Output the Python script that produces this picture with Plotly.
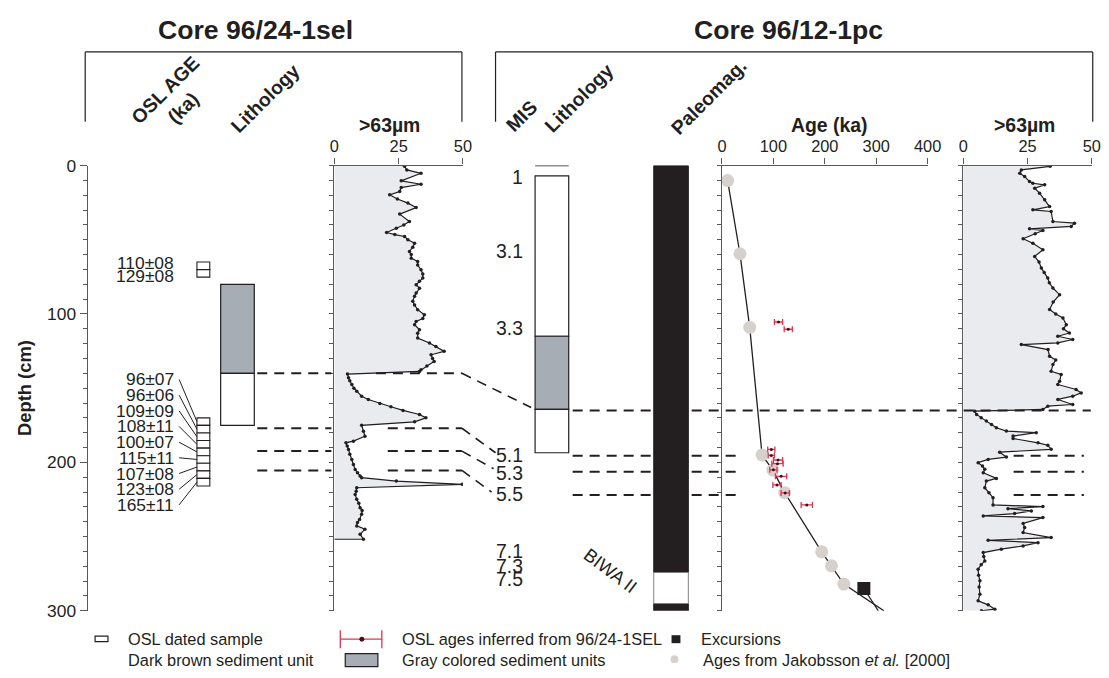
import plotly.graph_objects as go

# Figure frame; positions below are given in the reference picture's pixels and mapped to the figure.
FW, FH = 1101, 670
INK = '#231f20'
AX = '#58595b'
GRAY_UNIT = '#a7adb4'
FILL = '#e9ebef'
RED = '#e2334f'
JAK = '#d7d1ce'
FONT = 'Arial, Liberation Sans, Helvetica, sans-serif'

# ---------------- data ----------------
# Core 96/24-1sel  >63 um (%)
grain24_depth = [0.5, 2.9, 5.2, 10.3, 12.6, 14.8, 17.5, 19.7, 22.5, 25.3, 28.3, 32.7, 37.7, 40, 42.2, 45.1,
                 46.5, 47.8, 50, 52.3, 55, 57.9, 60, 62.4, 64.6, 67, 70.2, 73, 75.8, 78, 80.3, 82.6, 85.9,
                 88, 91.5, 94, 97.1, 100.5, 103, 105, 107.2, 110.6, 113, 116.2, 119.6, 122, 125.2, 127.5,
                 130, 132, 135, 137.6, 138.7, 140.5, 143, 145, 147.5, 150, 152, 155.4, 157.6, 160.3, 162.5,
                 165, 167.7, 170, 172.7, 175, 179, 182.4, 185.7, 186.8, 189, 191.3, 194.5, 198, 201.4,
                 204.8, 207, 209.2, 210.3, 212.6, 214.8, 217.1, 219.5, 221.6, 224.9, 227.5, 230.5, 232.5,
                 235, 238.5, 240.5, 242.8, 245.1, 248.4, 251.8]
grain24_val = [27.3, 28.2, 33.7, 26.0, 33.7, 26.0, 25.4, 21.5, 24.5, 28.6, 31.8, 25.4, 29.2, 27.0, 24.1, 20.3,
               23.5, 27.3, 28.6, 31.2, 30.5, 29.2, 29.9, 29.9, 32.4, 32.4, 33.7, 34.4, 34.4, 33.1, 31.8, 33.1,
               31.8, 31.2, 30.5, 31.2, 32.4, 35.0, 34.4, 31.8, 31.2, 33.1, 32.4, 32.4, 37.0, 39.5, 42.7,
               37.6, 38.2, 38.8, 36.0, 33.7, 33.1, 5.1, 5.5, 6.0, 6.8, 7.6, 8.7, 10.6, 13.2, 17.7, 22.0,
               26.7, 33.1, 35.6, 31.2, 10.6, 11.3, 11.9, 7.4, 4.5, 5.0, 5.5, 6.0, 6.8, 7.4,
               8.1, 9.0, 10.0, 10.6, 24.1, 49.7, 8.7, 8.5, 8.1, 8.7, 9.5, 10.0, 10.8,
               10.6, 9.8, 9.0, 8.7, 11.9, 10.0, 11.3]

# Core 96/12-1pc  >63 um (%)
grain12_depth = [0.5, 2.9, 5.2, 7.4, 10.8, 11.9, 13.0, 15.3, 18.6, 23.1, 27.6, 29.8, 30.9, 37.7, 38.8, 41.0,
                 42.6, 43.7, 46, 49.3, 52.3, 56.7, 61.2, 65, 69.1, 72, 75.8, 79, 82.5, 87.0, 92, 97.0, 100,
                 102.7, 107.2, 110, 112.8, 115.0, 117.2, 119.5, 120.6, 124, 128.5, 131, 134.0, 138.6, 140.8,
                 145.3, 147.5, 150.9, 153.2, 155.4, 157.6, 161.0, 162.1, 164.3, 165.5, 167.7, 170, 172.2,
                 174.5, 176.7, 178.9, 180.0, 182.3, 183.9, 186.8, 188.4, 191.2, 193.1, 196.4, 198.0, 200.2,
                 202.5, 204.7, 207.0, 210.8, 212.6, 217.1, 220.5, 223.8, 228.7, 229.8, 231.2, 232.7, 234.5,
                 236.1, 237.2, 241.2, 243.9, 247.3, 250.7, 252.5, 254.1, 256.3, 258.5, 260.8, 263.5, 266.4,
                 269, 272.0, 276, 279.8, 284, 288.8, 293.3, 296.0, 298.9, 300.0]
grain12_val = [33.8, 22.6, 22.0, 23.9, 25.8, 27.1, 31.7, 27.8, 29.7, 31.7, 33.6, 27.1, 34.2, 34.9, 43.3, 42.0,
               25.8, 31.0, 28.0, 23.3, 27.1, 31.0, 27.8, 29.5, 30.4, 31.5, 32.9, 33.5, 34.9, 37.5, 35.0, 33.6, 36.0,
               38.8, 40.1, 39.0, 41.3, 36.8, 42.6, 36.8, 22.6, 33.0, 33.6, 36.0, 34.9, 34.2, 38.1,
               37.5, 36.8, 43.9, 45.9, 42.6, 36.8, 42.6, 32.9, 31.0, 4.5, 5.2, 7.0, 9.0,
               11.0, 12.9, 16.8, 28.4, 19.4, 19.4, 29.1, 32.9, 34.2, 14.2, 16.8, 9.7, 5.8,
               7.5, 8.4, 7.8, 12.9, 9.0, 8.4, 10.0, 11.6, 11.6, 31.0, 17.4, 26.5, 20.0,
               7.8, 31.0, 23.3, 23.9, 23.3, 34.2, 9.7, 29.1, 23.3, 14.8, 7.8, 8.0, 8.4,
               7.0, 5.8, 6.0, 6.5, 6.2, 6.5, 5.8, 9.7, 12.3, 7.1]

# Ages from Jakobsson et al. [2000] (core 96/12-1pc)
jak_age = [11, 35, 54, 78, 99, 122, 194, 213, 237]
jak_depth = [10.1, 59.4, 109, 195, 205.2, 220.4, 260.3, 269.7, 282]
model_end_age, model_end_depth = 315, 300

# Excursion
exc_age, exc_depth = 276, 285
exc_end_age, exc_end_depth = 304, 300

# OSL ages (ka) and errors, dated in 96/24-1sel and inferred in 96/12-1pc
osl_age = [110, 129, 96, 96, 109, 108, 100, 115, 107, 123, 165]
osl_err = [8, 8, 7, 6, 9, 11, 7, 11, 8, 8, 11]
osl_depth12 = [105.4, 110.3, 191.3, 195.3, 198.4, 200.9, 205, 209.4, 215.2, 220.6, 228.7]
osl_top24 = [65, 70.1, 170, 175.1, 180.2, 185.3, 190.4, 195.5, 200.6, 205.7, 210.8]
osl_thick24 = 5.1
osl_label_depth = [65.7, 74.7, 144.1, 154.7, 165.3, 175.8, 186.4, 196.9, 207.5, 218.1, 228.6]

# Lithology
lith24_top = [80, 140]
lith24_bot = [140, 175]
lith24_kind = ['gray', 'white']
lith12_top = [7, 115, 164.3]
lith12_bot = [115, 164.3, 193.5]
lith12_kind = ['white', 'gray', 'white']
pmag_top = [0, 274.2, 295.5]
pmag_bot = [274.2, 295.5, 300.5]
pmag_kind = ['black', 'white', 'black']

# MIS labels
mis_label = ['1', '3.1', '3.3', '5.1', '5.3', '5.5', '7.1', '7.3', '7.5']
mis_depth = [7.4, 57.8, 109.4, 195, 207, 221.5, 259.6, 269.7, 278.7]

# Correlation lines
corr24 = [140, 177, 192.4, 205.4]
corr12 = [165, 195.5, 206.3, 222]

# ---------------- coordinate helpers ----------------
SX, SY = 0.984, 0.973      # screenshot scale
OXF, OYF = 4.0, 8.2        # screenshot offset
MARG = 8                   # page margin


def figx(r):
    return (3 + 0.99 * r - OXF) / SX - MARG


def figy(r):
    return (r - OYF) / SY - MARG


def inv_figx(f):
    return (((f + MARG) * SX + OXF) - 3) / 0.99


def fx(r):
    return figx(r) / FW


def fy(r):
    return 1 - figy(r) / FH


def fs(s):
    return s / 0.978


ydom = [fy(610.5), fy(164)]
fig = go.Figure()

fig.add_trace(go.Scatter(x=[inv_figx(0)], y=[0], xaxis='x4', yaxis='y', mode='markers',
                         marker=dict(opacity=0), hoverinfo='skip', showlegend=False))

# left grain size
fig.add_trace(go.Scatter(x=grain24_val, y=grain24_depth, xaxis='x', yaxis='y2', mode='lines+markers',
                         fill='tozerox', fillcolor=FILL, line=dict(color=INK, width=1.2),
                         marker=dict(size=3.5, color=INK), showlegend=False, hoverinfo='skip'))
fig.add_trace(go.Scatter(x=[0, grain24_val[-1]], y=[grain24_depth[-1]] * 2, xaxis='x', yaxis='y2',
                         mode='lines', line=dict(color=INK, width=1.2), showlegend=False, hoverinfo='skip'))

# age model
fig.add_trace(go.Scatter(x=jak_age + [model_end_age], y=jak_depth + [model_end_depth], xaxis='x2', yaxis='y3',
                         mode='lines', line=dict(color=INK, width=1.3), showlegend=False, hoverinfo='skip'))
fig.add_trace(go.Scatter(x=[exc_age, exc_end_age], y=[exc_depth, exc_end_depth], xaxis='x2', yaxis='y3',
                         mode='lines', line=dict(color=INK, width=1.3), showlegend=False, hoverinfo='skip'))
fig.add_trace(go.Scatter(x=jak_age, y=jak_depth, xaxis='x2', yaxis='y3', mode='markers',
                         marker=dict(size=13, color=JAK), showlegend=False, hoverinfo='skip'))
fig.add_trace(go.Scatter(x=[exc_age], y=[exc_depth], xaxis='x2', yaxis='y3', mode='markers',
                         marker=dict(size=13, color=INK, symbol='square'), showlegend=False, hoverinfo='skip'))
fig.add_trace(go.Scatter(x=osl_age, y=osl_depth12, xaxis='x2', yaxis='y3', mode='markers',
                         marker=dict(size=3, color='#4a0d16'),
                         error_x=dict(type='data', array=osl_err, color=RED, thickness=1.3, width=3),
                         showlegend=False, hoverinfo='skip'))

# right grain size
fig.add_trace(go.Scatter(x=grain12_val, y=grain12_depth, xaxis='x3', yaxis='y4', mode='lines+markers',
                         fill='tozerox', fillcolor=FILL, line=dict(color=INK, width=1.2),
                         marker=dict(size=3.5, color=INK), showlegend=False, hoverinfo='skip'))

shapes = []
annotations = []


def line_px(x0, d0, x1, d1, width=1.2, color=INK, dash=None):
    ln = dict(color=color, width=width)
    if dash:
        ln['dash'] = dash
    shapes.append(dict(type='line', xref='x4', yref='y', x0=x0, x1=x1, y0=d0, y1=d1, line=ln, layer='above'))


def rect_px(x0, x1, d0, d1, fill, lc=INK, lw=1.2):
    shapes.append(dict(type='rect', xref='x4', yref='y', x0=x0, x1=x1, y0=d0, y1=d1,
                       fillcolor=fill, line=dict(color=lc, width=lw), layer='above'))


DASH = '10px,7px'
slant_x = [533, 497, 495, 493]
for i, d24 in enumerate(corr24):
    line_px(256, d24, 331, d24, width=2, dash=DASH)
    x_start = 376 if i == 0 else 388
    line_px(x_start, d24, 463, d24, width=2, dash=DASH)
    line_px(463, d24, slant_x[i], corr12[i] - 2, width=1.6, dash=DASH)
for i, d12 in enumerate(corr12):
    if i == 0:
        line_px(575, d12, 1099, d12, width=2, dash=DASH)
    else:
        line_px(575, d12, 741, d12, width=2, dash=DASH)
        line_px(1021, d12, 1092, d12, width=2, dash=DASH)

colmap = {'gray': GRAY_UNIT, 'white': 'white', 'black': INK}
for t, b, k in zip(lith24_top, lith24_bot, lith24_kind):
    rect_px(219, 253, t, b, colmap[k])
for t in osl_top24:
    rect_px(195, 208, t, t + osl_thick24, 'white', lw=1.1)
for i, (a, e, ld) in enumerate(zip(osl_age, osl_err, osl_label_depth)):
    annotations.append(dict(xref='x4', yref='y', x=174, y=ld, text=f'{a}±{e:02d}', showarrow=False,
                            xanchor='right', yanchor='middle', font=dict(size=fs(17), color=INK, family=FONT)))
    if i >= 2:
        line_px(177, ld, 195, osl_top24[i] + osl_thick24 / 2, width=1.0)

line_px(537, 0, 571, 0, width=1.2)
for t, b, k in zip(lith12_top, lith12_bot, lith12_kind):
    rect_px(537, 571, t, b, colmap[k])
for t, b, k in zip(pmag_top, pmag_bot, pmag_kind):
    rect_px(657, 692, t, b, colmap[k], lc=INK if k == 'black' else '#808285', lw=1.0)

for lab, d in zip(mis_label, mis_depth):
    annotations.append(dict(xref='x4', yref='y', x=527, y=d, text=lab, showarrow=False, xanchor='right',
                            yanchor='middle', font=dict(size=fs(19), color=INK, family=FONT)))
annotations.append(dict(xref='x4', yref='y', x=613, y=273, text='BIWA II', showarrow=False, textangle=37,
                        xanchor='center', yanchor='middle', font=dict(size=fs(18), color=INK, family=FONT)))

annotations.append(dict(xref='paper', yref='y', x=fx(20), y=150, text='<b>Depth (cm)</b>', showarrow=False,
                        textangle=-90, xanchor='center', yanchor='middle',
                        font=dict(size=fs(18), color=INK, family=FONT)))


def ptext(x, y, text, size, angle=0, xa='center', ya='middle'):
    annotations.append(dict(xref='paper', yref='paper', x=fx(x), y=fy(y), text=text, showarrow=False,
                            textangle=angle, xanchor=xa, yanchor=ya,
                            font=dict(size=fs(size), color=INK, family=FONT)))


ptext(254, 28, '<b>Core 96/24-1sel</b>', 26)
ptext(793, 28, '<b>Core 96/12-1pc</b>', 26)
ptext(172, 97, '<b>OSL AGE</b><br><b>(ka)</b>', 19, angle=-45)
ptext(264, 96, '<b>Lithology</b>', 19, angle=-45)
ptext(390, 123, '<b>>63µm</b>', 19)
ptext(523, 114, '<b>MIS</b>', 19, angle=-45)
ptext(581, 96, '<b>Lithology</b>', 19, angle=-45)
ptext(712, 95, '<b>Paleomag.</b>', 19, angle=-45)
ptext(835, 123, '<b>Age (ka)</b>', 19)
ptext(1032, 123, '<b>>63µm</b>', 19)


def pline(x0, y0, x1, y1, color=INK, width=1.2):
    shapes.append(dict(type='line', xref='paper', yref='paper', x0=fx(x0), x1=fx(x1), y0=fy(y0), y1=fy(y1),
                       line=dict(color=color, width=width)))


for (xa, xb) in [(82, 463), (497, 1101)]:
    pline(xa, 50, xb, 50)
    pline(xa, 50, xa, 120)
    pline(xb, 50, xb, 120)


def prect(x0, y0, x1, y1, fill, lc=INK, lw=1.2):
    shapes.append(dict(type='rect', xref='paper', yref='paper', x0=fx(x0), x1=fx(x1), y0=fy(y0), y1=fy(y1),
                       fillcolor=fill, line=dict(color=lc, width=lw)))


R1, R2 = 639, 660
prect(92, R1 - 3, 105, R1 + 2.5, 'white')
ptext(123, R1, 'OSL dated sample', 16, xa='left')
ptext(123, R2, 'Dark brown sediment unit', 16, xa='left')
pline(340, R1, 382, R1, color=RED, width=1.3)
pline(340, R1 - 9, 340, R1 + 9, color=RED, width=1.3)
pline(382, R1 - 9, 382, R1 + 9, color=RED, width=1.3)
shapes.append(dict(type='circle', xref='paper', yref='paper', x0=fx(359.3), x1=fx(364.3), y0=fy(R1 - 2.5),
                   y1=fy(R1 + 2.5), fillcolor='#4a0d16', line=dict(width=0)))
ptext(400, R1, 'OSL ages inferred from 96/24-1SEL', 16, xa='left')
prect(345, R2 - 6.5, 378, R2 + 6.5, GRAY_UNIT)
ptext(400, R2, 'Gray colored sediment units', 16, xa='left')
prect(675, R1 - 4, 684, R1 + 4, INK, lw=0)
ptext(703, R1, 'Excursions', 16, xa='left')
shapes.append(dict(type='circle', xref='paper', yref='paper', x0=fx(674), x1=fx(682), y0=fy(R2 - 5),
                   y1=fy(R2 + 3), fillcolor=JAK, line=dict(width=0)))
ptext(705, R2, 'Ages from Jakobsson <i>et al.</i> [2000]', 16, xa='left')

ybase = dict(range=[300, 0], domain=ydom, showgrid=False, zeroline=False, showline=True, linecolor=AX,
             linewidth=1.2, ticks='outside', tickcolor=AX, ticklen=4, tickwidth=1, tickmode='linear', tick0=0,
             dtick=10, showticklabels=False)
xbase = dict(showgrid=False, zeroline=False, showline=True, linecolor=AX, linewidth=1.2, side='top',
             ticks='outside', tickcolor=AX, ticklen=6, tickwidth=1,
             tickfont=dict(size=fs(16), color=INK, family=FONT))

fig.update_layout(
    width=FW, height=FH, margin=dict(l=0, r=0, t=0, b=0),
    paper_bgcolor='white', plot_bgcolor='rgba(0,0,0,0)',
    font=dict(family=FONT, color=INK),
    showlegend=False,
    yaxis=dict(range=[300, 0], domain=ydom, anchor='free', position=fx(83.5), showgrid=False, zeroline=False,
               showline=True, linecolor=AX, linewidth=1.2, ticks='outside', tickcolor=AX, ticklen=7,
               tickmode='linear', tick0=0, dtick=100, tickfont=dict(size=fs(17), color=INK, family=FONT),
               minor=dict(tickmode='linear', tick0=0, dtick=10, ticklen=4, ticks='outside', tickcolor=AX)),
    xaxis4=dict(domain=[0, 1], range=[inv_figx(0), inv_figx(FW)], anchor='y', visible=False),
    xaxis=dict(xbase, domain=[fx(334), fx(464)], range=[0, 50], anchor='y2', tickvals=[0, 25, 50]),
    yaxis2=dict(ybase, anchor='x'),
    xaxis2=dict(xbase, domain=[fx(726), fx(934)], range=[0, 400], anchor='y3',
                tickvals=[0, 100, 200, 300, 400]),
    yaxis3=dict(ybase, anchor='x2'),
    xaxis3=dict(xbase, domain=[fx(970), fx(1100)], range=[0, 50], anchor='y4', tickvals=[0, 25, 50]),
    yaxis4=dict(ybase, anchor='x3'),
    shapes=shapes,
    annotations=annotations,
)

fig.write_html('out.html')
